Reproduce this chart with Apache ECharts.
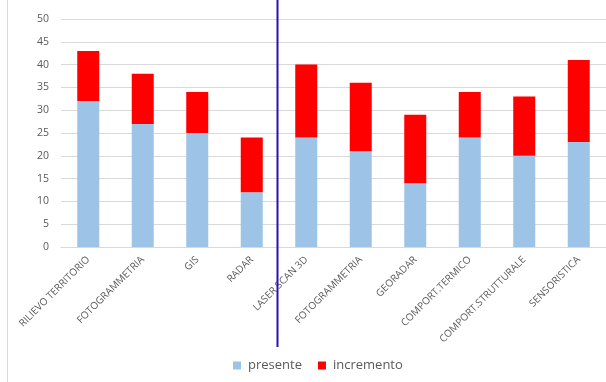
<!DOCTYPE html>
<html><head><meta charset="utf-8">
<script src="https://cdn.jsdelivr.net/npm/echarts@6/dist/echarts.min.js"></script>
<style>html,body{margin:0;padding:0;background:#fff}#c{width:606px;height:382px}</style>
</head><body><div id="c"></div>
<script>
const categories = ['RILIEVO TERRITORIO','FOTOGRAMMETRIA','GIS','RADAR','LASER SCAN 3D','FOTOGRAMMETRIA','GEORADAR','COMPORT.TERMICO','COMPORT.STRUTTURALE','SENSORISTICA'];
const presente = [32, 27, 25, 12, 24, 21, 14, 24, 20, 23];
const incremento = [11, 11, 9, 12, 16, 15, 15, 10, 13, 18];
const yTicks = [0, 5, 10, 15, 20, 25, 30, 35, 40, 45, 50];

const chart = echarts.init(document.getElementById('c'));
const font = '"Open Sans", "Liberation Sans", sans-serif';
chart.setOption({
  animation: false,
  grid: { left: 61, right: -3, top: 19, bottom: 135, containLabel: false },
  legend: {
    top: 359, left: 233, padding: 0, itemWidth: 8, itemHeight: 8, itemGap: 16,
    icon: 'rect',
    textStyle: { color: '#595959', fontSize: 13, fontFamily: font, padding: [0,0,0,2] },
    data: ['presente', 'incremento']
  },
  xAxis: {
    type: 'category', data: categories,
    axisLine: { lineStyle: { color: '#d9d9d9' } },
    axisTick: { show: false },
    axisLabel: { rotate: 45, color: '#595959', fontSize: 10, fontFamily: font, interval: 0, margin: 11 }
  },
  yAxis: {
    type: 'value', min: yTicks[0], max: yTicks[yTicks.length-1], interval: 5,
    splitLine: { lineStyle: { color: '#d9d9d9' } },
    axisLine: { show: false }, axisTick: { show: false },
    axisLabel: { color: '#595959', fontSize: 10.5, fontFamily: font, margin: 12 }
  },
  series: [
    { name: 'presente', type: 'bar', stack: 'a', data: presente, barWidth: 22, itemStyle: { color: '#9dc3e6' } },
    { name: 'incremento', type: 'bar', stack: 'a', data: incremento, barWidth: 22, itemStyle: { color: '#ff0000' } }
  ],
  graphic: [
    { type: 'rect', shape: { x: 7.5, y: -1, width: 620, height: 400 }, style: { fill: null, stroke: '#d9d9d9', lineWidth: 1 }, silent: true },
    { type: 'line', shape: { x1: 277.5, y1: 0, x2: 277.5, y2: 347 }, style: { stroke: '#2a10b8', lineWidth: 2 }, z: 10 }
  ]
});
</script></body></html>
